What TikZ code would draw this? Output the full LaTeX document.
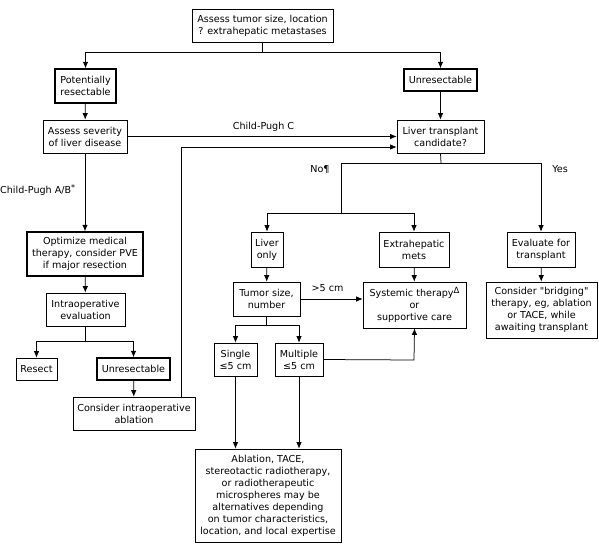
\documentclass[tikz,border=0pt]{standalone}
\usepackage{fontspec}
\setmainfont{DejaVu Sans}[Ligatures=TeXOff]
\usetikzlibrary{arrows.meta}
\begin{document}
\begin{tikzpicture}[x=1pt,y=-1pt,
  box/.style={draw, line width=0.7pt, align=center, inner sep=0pt, font=\fontsize{9.6}{12}\selectfont},
  tbox/.style={box, line width=1.4pt},
  conn/.style={line width=0.75pt},
  arr/.style={conn, -{Latex[length=6.5pt,width=5.5pt]}},
  lbl/.style={font=\fontsize{9.6}{12}\selectfont, inner sep=0pt}]
\useasboundingbox (0,0) rectangle (599,543);

% nodes
\node[box, minimum width=141pt, minimum height=33pt] (top) at (262.5,25.5) {Assess tumor size, location\\? extrahepatic metastases};
\node[tbox, minimum width=61pt, minimum height=34pt] (potres) at (85.5,86) {Potentially\\resectable};
\node[tbox, minimum width=73pt, minimum height=22pt] (unres) at (440.5,80) {Unresectable};
\node[box, minimum width=84pt, minimum height=33pt] (assess) at (85,136.5) {Assess severity\\of liver disease};
\node[box, minimum width=87pt, minimum height=33pt] (ltc) at (440.5,136.5) {Liver transplant\\candidate?};
\node[tbox, minimum width=116pt, minimum height=44pt] (optim) at (85,254) {Optimize medical\\therapy, consider PVE\\if major resection};
\node[box, minimum width=79pt, minimum height=33pt] (intraop) at (85.5,309.5) {Intraoperative\\evaluation};
\node[box, minimum width=41pt, minimum height=22pt] (resect) at (36.5,369) {Resect};
\node[tbox, minimum width=73pt, minimum height=22pt] (unresL) at (133.5,369) {Unresectable};
\node[box, minimum width=122pt, minimum height=33pt] (ablint) at (134,413.5) {Consider intraoperative\\ablation};
\node[box, minimum width=32pt, minimum height=35pt] (livonly) at (267,249.5) {Liver\\only};
\node[box, minimum width=70pt, minimum height=35pt] (extra) at (414,249.5) {Extrahepatic\\mets};
\node[box, minimum width=68pt, minimum height=35pt] (evalt) at (541,249.5) {Evaluate for\\transplant};
\node[box, minimum width=67pt, minimum height=34pt] (tumor) at (266.5,299) {Tumor size,\\number};
\node[box, minimum width=103pt, minimum height=46pt] (syst) at (414.5,305) {Systemic therapy\raisebox{3.5pt}{\fontsize{8.5}{10}\selectfont Δ}\\or\\supportive care};
\node[box, minimum width=111pt, minimum height=56pt] (bridge) at (541.5,310) {Consider "bridging"\\therapy, eg, ablation\\or TACE, while\\awaiting transplant};
\node[box, minimum width=43pt, minimum height=33pt] (single) at (235.5,359.5) {Single\\≤5 cm};
\node[box, minimum width=48pt, minimum height=33pt] (multi) at (299,359.5) {Multiple\\≤5 cm};
\node[box, minimum width=146pt, minimum height=93pt] (ablat) at (268,495.5) {Ablation, TACE,\\stereotactic radiotherapy,\\or radiotherapeutic\\microspheres may be\\alternatives depending\\on tumor characteristics,\\location, and local expertise};

% labels
\node[lbl] (lcpc) at (263.5,127) {Child-Pugh C};
\node[lbl, anchor=west] (lcpab) at (0,190) {Child-Pugh A/B\raisebox{3pt}{\fontsize{8}{10}\selectfont *}};
\node[lbl] (lno) at (320,169) {No¶};
\node[lbl] (lyes) at (560,169) {Yes};
\node[lbl] (lgt) at (327.5,288) {>5 cm};

% junction coordinates
\coordinate (j1) at (262.5,52);
\coordinate (j2) at (85.5,341);
\coordinate (j3) at (441,163);
\coordinate (j3a) at (341,163);
\coordinate (j3b) at (541,163);
\coordinate (j4) at (341,213);
\coordinate (j5) at (266.5,325);
\coordinate (c181) at (181,147);
\coordinate (c414) at (414,360);

% connectors
\draw[conn] (top.south) -- (j1);
\draw[arr] (j1) -| (potres.north);
\draw[arr] (j1) -| (unres.north);
\draw[arr] (potres) -- (assess);
\draw[arr] (unres) -- (ltc);
\draw[arr] (assess.east) -- (assess.east -| ltc.west);
\draw[arr] (assess) -- (optim);
\draw[arr] (optim) -- (intraop);
\draw[conn] (intraop.south) -- (j2);
\draw[arr] (j2) -| (resect.north);
\draw[arr] (j2) -| (unresL.north);
\draw[arr] (unresL) -- (ablint);
\draw[arr] (ablint.north -| c181) -- (c181) -- (c181 -| ltc.west);
\draw[conn] (ltc.south) -- (j3);
\draw[conn] (j3a) -- (j3b);
\draw[conn] (j3a) -- (j4);
\draw[arr] (j4) -| (livonly.north);
\draw[arr] (j4) -| (extra.north);
\draw[arr] (j3b) -- (evalt.north);
\draw[arr] (livonly) -- (tumor);
\draw[arr] (extra) -- (syst);
\draw[arr] (evalt) -- (bridge);
\draw[arr] (tumor.east) -- (tumor.east -| syst.west);
\draw[conn] (tumor.south) -- (j5);
\draw[arr] (j5) -| (single.north);
\draw[arr] (j5) -| (multi.north);
\draw[arr] (multi.east) -- (c414) -- (syst.south);
\draw[arr] (single.south) -- (single.south |- ablat.north);
\draw[arr] (multi.south) -- (multi.south |- ablat.north);
\end{tikzpicture}
\end{document}
